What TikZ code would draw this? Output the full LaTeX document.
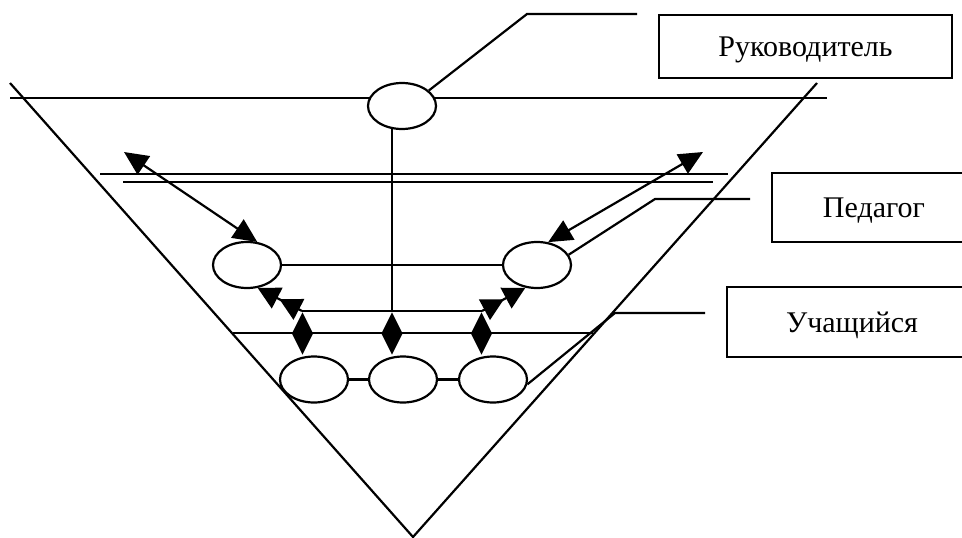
\documentclass[tikz,border=0pt]{standalone}
\usepackage{fontspec}
\setmainfont{Liberation Serif}
\usetikzlibrary{shapes.geometric,arrows.meta}
\begin{document}
\begin{tikzpicture}[x=1pt,y=-1pt,line width=2.2pt,
  oval/.style={ellipse,draw,fill=white,minimum width=68pt,minimum height=46pt,inner sep=0pt},
  rhomb/.style={diamond,fill=black,draw=none,minimum width=22pt,minimum height=43pt,inner sep=0pt},
  labelbox/.style={rectangle,draw,fill=white,inner sep=0pt,text height=20pt,text depth=0pt,font=\fontsize{30}{36}\selectfont},
  bigarrow/.style={{Triangle[length=24pt 0,width=22pt 0]}-{Triangle[length=24pt 0,width=22pt 0]}},
  dblhead/.style={-{Triangle[length=22pt 0,width=23pt 0,sep=2.5pt 0]Triangle[length=22pt 0,width=23pt 0]}}]
\clip (0,0) rectangle (962,538);
% triangle
\coordinate (tl) at (10,83);
\coordinate (tb) at (413,537);
\coordinate (tr) at (817,83);
\draw (tl) -- (tb) -- (tr);
% horizontal lines
\coordinate (h1a) at (10,98);  \coordinate (h1b) at (827,98);
\coordinate (h2a) at (100,174); \coordinate (h2b) at (728,174);
\coordinate (h3a) at (123,182); \coordinate (h3b) at (713,182);
\coordinate (h4a) at (233,333); \coordinate (h4b) at (593,333);
\draw (h1a) -- (h1b);
\draw (h2a) -- (h2b);
\draw (h3a) -- (h3b);
\draw (h4a) -- (h4b);
% junction line
\coordinate (j1) at (302,311);
\coordinate (j) at (392,311);
\coordinate (j3) at (482,311);
% ellipses
\node[oval] (ruk) at (402,106) {};
\node[oval] (pl) at (247,265) {};
\node[oval] (pr) at (537,265) {};
\node[oval] (u1) at (314,379.5) {};
\node[oval] (u2) at (403,379.5) {};
\node[oval] (u3) at (493,379.5) {};
% connectors
\draw (j |- ruk.246) -- (j);
\draw (j1) -- (j3);
\draw (pl.east) -- (pr.west);
\draw (u1.east) -- (u2.west);
\draw (u2.east) -- (u3.west);
% diamonds
\node[rhomb] (d1) at (302.5,333.5) {};
\node[rhomb] (d2) at (392,333.5) {};
\node[rhomb] (d3) at (481.5,333.5) {};
% arrows
\coordinate (al) at (124,152);
\coordinate (ar) at (703,152);
\draw[bigarrow] (al) -- (pl.66);
\draw[bigarrow] (ar) -- (pr.64);
\draw[dblhead] (j1) -- (pl.-65);
\draw[dblhead] (j3) -- (pr.243);
% label boxes
\node[labelbox,minimum width=293pt,minimum height=63pt] (bruk) at (805.5,46.5) {Руководитель};
\node[labelbox,minimum width=204pt,minimum height=69pt] (bped) at (874,207.5) {Педагог};
\node[labelbox,minimum width=250pt,minimum height=70pt] (buch) at (852,322) {Учащийся};
% leader lines
\coordinate (r1) at (527,14);  \coordinate (r2) at (637,14);
\coordinate (p1) at (655,199); \coordinate (p2) at (750,199);
\coordinate (s1) at (615,313); \coordinate (s2) at (705,313);
\draw (ruk.30) -- (r1) -- (r2);
\draw (pr.18) -- (p1) -- (p2);
\draw (u3.-8) -- (s1) -- (s2);
\end{tikzpicture}
\end{document}
